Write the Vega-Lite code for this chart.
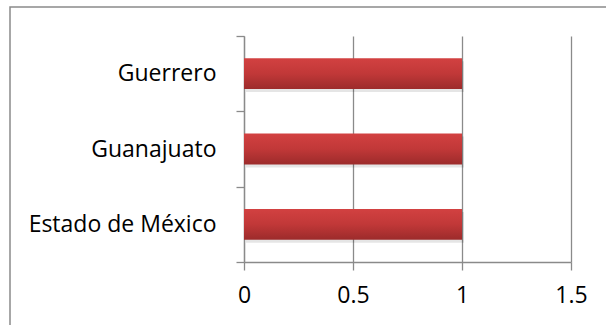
{
  "$schema": "https://vega.github.io/schema/vega-lite/v6.json",
  "width": 327,
  "height": 226,
  "autosize": "none",
  "padding": {"left": 244, "top": 36, "right": 35, "bottom": 63},
  "background": "white",
  "config": {
    "view": {"stroke": null},
    "font": "Open Sans",
    "axis": {
      "labelFont": "Open Sans",
      "labelFontSize": 23,
      "labelColor": "#000000",
      "labelLimit": 400,
      "domainColor": "#8a8a8a",
      "domainWidth": 1.3,
      "tickColor": "#8a8a8a",
      "tickWidth": 1.3,
      "tickSize": 8,
      "gridColor": "#8a8a8a",
      "gridWidth": 1.3,
      "gridOpacity": 1
    }
  },
  "data": {
    "values": [
      {"estado": "Guerrero", "valor": 1},
      {"estado": "Guanajuato", "valor": 1},
      {"estado": "Estado de México", "valor": 1}
    ]
  },
  "layer": [
    {
      "data": {"values": [{"marco": 1}]},
      "mark": {"type": "rect", "fill": null, "stroke": "#8a8a8a", "strokeWidth": 1.5, "clip": false},
      "encoding": {
        "x": {"value": -234},
        "x2": {"value": 380},
        "y": {"value": -29},
        "y2": {"value": 310}
      }
    },
    {
      "mark": {"type": "bar", "color": "#000000", "opacity": 0.1, "xOffset": 2, "yOffset": 3, "height": {"band": 0.41}},
      "encoding": {
        "y": {
          "field": "estado",
          "type": "nominal",
          "sort": ["Guerrero", "Guanajuato", "Estado de México"],
          "scale": {"paddingInner": 0, "paddingOuter": 0},
          "axis": {
            "title": null,
            "grid": false,
            "tickBand": "extent",
            "labelPadding": 20,
            "labelAlign": "right"
          }
        },
        "x": {
          "field": "valor",
          "type": "quantitative",
          "scale": {"domain": [0, 1.5], "nice": false},
          "axis": {
            "title": null,
            "values": [0, 0.5, 1, 1.5],
            "format": "",
            "grid": true,
            "labelPadding": 14,
            "labelFlush": false
          }
        }
      }
    },
    {
      "mark": {
        "type": "bar",
        "height": {"band": 0.41},
        "color": {
          "gradient": "linear",
          "x1": 0, "y1": 0, "x2": 0, "y2": 1,
          "stops": [
            {"offset": 0, "color": "#d24141"},
            {"offset": 0.5, "color": "#c13838"},
            {"offset": 1, "color": "#9c2b2b"}
          ]
        }
      },
      "encoding": {
        "y": {
          "field": "estado",
          "type": "nominal",
          "sort": ["Guerrero", "Guanajuato", "Estado de México"]
        },
        "x": {"field": "valor", "type": "quantitative"}
      }
    }
  ]
}
